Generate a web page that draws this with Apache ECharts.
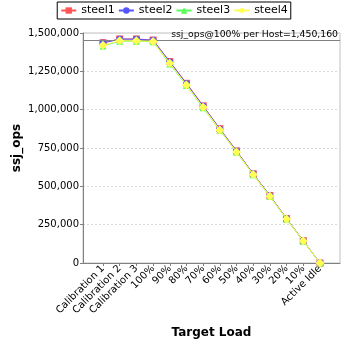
<!DOCTYPE html>
<html><head><meta charset="utf-8">
<script src="https://cdn.jsdelivr.net/npm/echarts@6/dist/echarts.min.js"></script>
<style>html,body{margin:0;padding:0;background:#fff}#c{width:348px;height:348px}</style>
</head><body><div id="c"></div>
<script>
var categories = ["Calibration 1","Calibration 2","Calibration 3","100%","90%","80%","70%","60%","50%","40%","30%","20%","10%","Active Idle"];
var steel1 = [1437000,1461000,1461000,1454000,1314000,1172000,1025000,876000,731000,582000,440000,290000,145000,0];
var steel2 = [1435000,1460000,1460000,1452000,1311000,1169000,1022000,873000,729000,580000,438000,288000,144000,0];
var steel3 = [1415000,1447000,1447000,1443000,1298000,1158000,1012000,866000,722000,576000,433000,285000,142000,0];
var steel4 = [1420000,1449000,1449000,1445000,1303000,1161000,1015000,868000,724000,577000,435000,287000,143000,0];
var refValue = 1450160;
var yTicks = [0,250000,500000,750000,1000000,1250000,1500000];

function fmt(v){return v.toString().replace(/\B(?=(\d{3})+(?!\d))/g, ",");}
var idx = categories.map(function(_,i){return i;});
function pts(arr){return arr.map(function(v,i){return [i,v];});}
var colors = ['#ff5555','#5555ff','#55ff55','#ffff55'];
var names = ['steel1','steel2','steel3','steel4'];
var symbols = ['rect','circle','triangle','diamond'];
var datas = [steel1,steel2,steel3,steel4];
var series = datas.map(function(d,k){
  var s = {name:names[k], type:'line', data:pts(d), symbol:symbols[k], symbolSize:k===3?9:7,
    itemStyle:{color:colors[k]}, lineStyle:{color:colors[k], width:1}, animation:false, z:3+k};
  if(k===0){
    s.markLine = {silent:true, symbol:'none', animation:false,
      lineStyle:{color:'#808080', width:1, type:'solid'},
      label:{position:'insideEndTop', formatter:'ssj_ops@100% per Host='+fmt(refValue), color:'#000', fontSize:9.3, fontFamily:'DejaVu Sans', distance:[2,2]},
      data:[{yAxis:refValue}]};
  }
  return s;
});
var chart = echarts.init(document.getElementById('c'), null, {renderer:'canvas'});
chart.setOption({
  backgroundColor:'#fff',
  animation:false,
  legend:{top:2, left:'center', itemWidth:15, itemHeight:8, itemGap:3, padding:[3,3,3,3],
    borderColor:'#000', borderWidth:1, textStyle:{fontSize:11, fontFamily:'DejaVu Sans', color:'#000'},
    data:names},
  grid:{left:83, top:33, right:8, bottom:85, show:true, borderColor:'#c0c0c0', borderWidth:1},
  xAxis:{type:'value', min:-1.2, max:14.2,
    name:'Target Load', nameLocation:'middle', nameGap:64,
    nameTextStyle:{fontSize:12, fontWeight:'bold', fontFamily:'DejaVu Sans', color:'#000'},
    axisLine:{onZero:false, lineStyle:{color:'#808080'}},
    axisTick:{customValues:idx, length:3, lineStyle:{color:'#808080'}},
    splitLine:{show:false},
    axisLabel:{customValues:idx, rotate:45, fontSize:10, fontFamily:'DejaVu Sans', color:'#000', margin:4,
      formatter:function(v){return categories[Math.round(v)];}}},
  yAxis:{type:'value', min:0, max:1500000, interval:250000,
    name:'ssj_ops', nameLocation:'middle', nameGap:60, nameMoveOverlap:false,
    nameTextStyle:{fontSize:12, fontWeight:'bold', fontFamily:'DejaVu Sans', color:'#000'},
    axisLine:{show:true, onZero:false, lineStyle:{color:'#808080'}},
    axisTick:{show:true, length:3, lineStyle:{color:'#808080'}},
    splitLine:{lineStyle:{color:'#d8d8d8', type:[2,2]}},
    axisLabel:{fontSize:10, fontFamily:'DejaVu Sans', color:'#000', margin:4, formatter:function(v){return fmt(v);}}},
  series:series
});
</script></body></html>
